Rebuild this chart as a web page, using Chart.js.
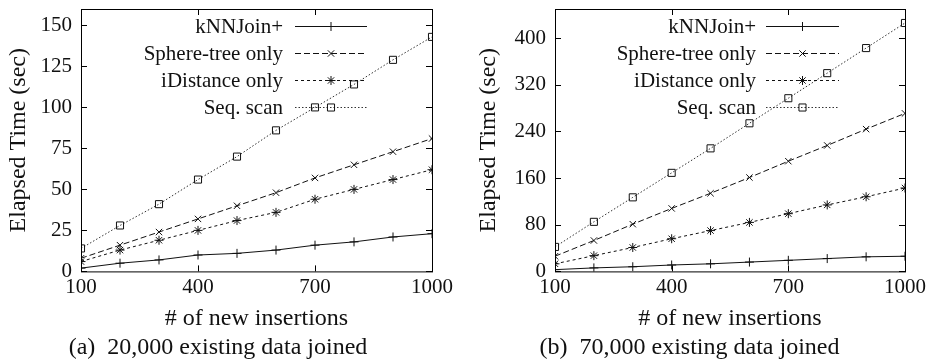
<!DOCTYPE html>
<html>
<head>
<meta charset="utf-8">
<script src="https://cdn.jsdelivr.net/npm/chart.js@4.4.1/dist/chart.umd.min.js"></script>
<style>
  body { margin: 0; background: #fff; }
  .panel { position: absolute; top: 0; height: 364px; }
</style>
</head>
<body>
<div class="panel" style="left: 0; width: 466px;"><canvas id="chartA"></canvas></div>
<div class="panel" style="left: 466px; width: 467px;"><canvas id="chartB"></canvas></div>
<script>
// x values: number of new insertions
const insertions = [100, 200, 300, 400, 500, 600, 700, 800, 900, 1000];
const xTicks = [100, 400, 700, 1000];
const seriesNames = ['kNNJoin+', 'Sphere-tree only', 'iDistance only', 'Seq. scan'];

// (a) 20,000 existing data joined
const knnA = [2, 5, 7, 10, 11, 13, 16, 18, 21, 23];
const sphereA = [8, 16, 24, 32, 40, 48, 57, 65, 73, 81];
const idistA = [6, 13, 19, 25, 31, 36, 44, 50, 56, 62];
const seqA = [14, 28, 41, 56, 70, 86, 100, 114, 129, 143];
const yTicksA = [0, 25, 50, 75, 100, 125, 150];

// (b) 70,000 existing data joined
const knnB = [3, 6, 8, 11, 13, 16, 19, 22, 25, 26];
const sphereB = [26, 53, 81, 108, 134, 161, 189, 216, 244, 271];
const idistB = [13, 27, 41, 56, 70, 84, 99, 114, 128, 143];
const seqB = [42, 85, 127, 169, 211, 254, 297, 340, 383, 426];
const yTicksB = [0, 80, 160, 240, 320, 400];

const FONT = "'Liberation Serif', 'Times New Roman', serif";

// line styles in gnuplot fashion
const styles = [
  { borderDash: [], pointStyle: 'cross', pointRadius: 4.5, borderColor: '#111' },
  { borderDash: [6, 3], pointStyle: 'crossRot', pointRadius: 4.5, borderColor: '#111' },
  { borderDash: [3, 3], pointStyle: 'star', pointRadius: 4.5, borderColor: '#111' },
  { borderDash: [1.5, 2], pointStyle: 'rect', pointRadius: 5, borderColor: '#333' }
];

// frame around the plot area with inward ticks on all four sides
const framePlugin = {
  id: 'frame',
  afterDatasetsDraw(chart) {
    const { ctx, chartArea: a, scales } = chart;
    ctx.save();
    ctx.strokeStyle = '#000';
    ctx.lineWidth = 1;
    ctx.setLineDash([]);
    ctx.strokeRect(a.left + 0.5, a.top + 0.5, a.right - a.left, a.bottom - a.top);
    const len = 6;
    ctx.beginPath();
    scales.x.ticks.forEach(t => {
      const px = Math.round(scales.x.getPixelForValue(t.value)) + 0.5;
      ctx.moveTo(px, a.bottom); ctx.lineTo(px, a.bottom - len);
      ctx.moveTo(px, a.top); ctx.lineTo(px, a.top + len);
    });
    scales.y.ticks.forEach(t => {
      const py = Math.round(scales.y.getPixelForValue(t.value)) + 0.5;
      ctx.moveTo(a.left, py); ctx.lineTo(a.left + len, py);
      ctx.moveTo(a.right, py); ctx.lineTo(a.right - len, py);
    });
    ctx.stroke();
    ctx.restore();
  }
};

// legend inside the plot: label right-aligned, then a line sample with marker
const keyPlugin = {
  id: 'key',
  afterDatasetsDraw(chart, args, opts) {
    const { ctx, chartArea: a } = chart;
    ctx.save();
    ctx.font = '21px ' + FONT;
    ctx.textAlign = 'right';
    ctx.textBaseline = 'middle';
    chart.data.datasets.forEach((ds, i) => {
      const y = a.top + opts.top + i * opts.gap;
      ctx.fillStyle = '#111';
      ctx.fillText(ds.label, a.left + opts.textRight, y + 1);
      const x0 = a.left + opts.lineStart, x1 = x0 + opts.lineLen;
      ctx.strokeStyle = ds.borderColor;
      ctx.lineWidth = 1;
      ctx.setLineDash(ds.borderDash);
      ctx.beginPath();
      ctx.moveTo(x0, y + 0.5); ctx.lineTo(x1, y + 0.5);
      ctx.stroke();
      ctx.setLineDash([]);
      ctx.strokeStyle = '#111';
      ctx.fillStyle = 'rgba(255,255,255,0)';
      Chart.helpers.drawPoint(ctx, { pointStyle: ds.pointStyle, radius: ds.pointRadius, rotation: 0, borderWidth: 1 }, (x0 + x1) / 2, y + 0.5);
    });
    ctx.restore();
  }
};

function makeChart(id, series, yTicks, yMax, caption, key, pad, yWidth) {
  new Chart(document.getElementById(id), {
    type: 'line',
    data: {
      datasets: series.map((vals, i) => ({
        label: seriesNames[i],
        data: vals.map((v, j) => ({ x: insertions[j], y: v })),
        borderColor: styles[i].borderColor,
        borderDash: styles[i].borderDash,
        borderWidth: 1,
        pointStyle: styles[i].pointStyle,
        pointRadius: styles[i].pointRadius,
        pointBorderColor: '#111',
        pointBackgroundColor: 'rgba(255,255,255,0)',
        pointBorderWidth: 1,
        fill: false,
        tension: 0
      }))
    },
    options: {
      responsive: true,
      maintainAspectRatio: false,
      animation: false,
      layout: { padding: pad },
      plugins: {
        legend: { display: false },
        tooltip: { enabled: false },
        title: {
          display: true,
          position: 'bottom',
          text: caption,
          color: '#111',
          font: { family: FONT, size: 24, weight: 'normal' },
          padding: { top: 0, bottom: 0 }
        },
        key: key
      },
      scales: {
        x: {
          type: 'linear',
          min: 100,
          max: 1000,
          afterBuildTicks: s => { s.ticks = xTicks.map(v => ({ value: v })); },
          afterFit: s => { s.paddingLeft = 0; s.paddingRight = 0; },
          grid: { display: false, drawTicks: false },
          border: { display: false },
          ticks: { color: '#111', font: { family: FONT, size: 21, lineHeight: 1 }, padding: 6, maxRotation: 0, callback: v => String(v) },
          title: { display: true, text: '# of new insertions', color: '#111', font: { family: FONT, size: 24 }, padding: { top: 0, bottom: 0 } }
        },
        y: {
          min: 0,
          max: yMax,
          afterBuildTicks: s => { s.ticks = yTicks.map(v => ({ value: v })); },
          afterFit: s => { s.paddingTop = 0; s.paddingBottom = 0; s.width = yWidth; },
          grid: { display: false, drawTicks: false },
          border: { display: false },
          ticks: { color: '#111', font: { family: FONT, size: 21 }, padding: 9, callback: v => String(v) },
          title: { display: true, text: 'Elapsed Time (sec)', color: '#111', font: { family: FONT, size: 24 }, padding: { top: 0, bottom: 2 } }
        }
      }
    },
    plugins: [framePlugin, keyPlugin]
  });
}

makeChart('chartA', [knnA, sphereA, idistA, seqA], yTicksA, 160,
  '(a)  20,000 existing data joined',
  { top: 17, gap: 27, textRight: 202, lineStart: 214, lineLen: 72 },
  { top: 9, right: 34, left: 4, bottom: 2 }, 77);

makeChart('chartB', [knnB, sphereB, idistB, seqB], yTicksB, 450,
  '(b)  70,000 existing data joined',
  { top: 17, gap: 27, textRight: 201, lineStart: 211, lineLen: 73 },
  { top: 9, right: 28, left: 8, bottom: 2 }, 81);
</script>
</body>
</html>
